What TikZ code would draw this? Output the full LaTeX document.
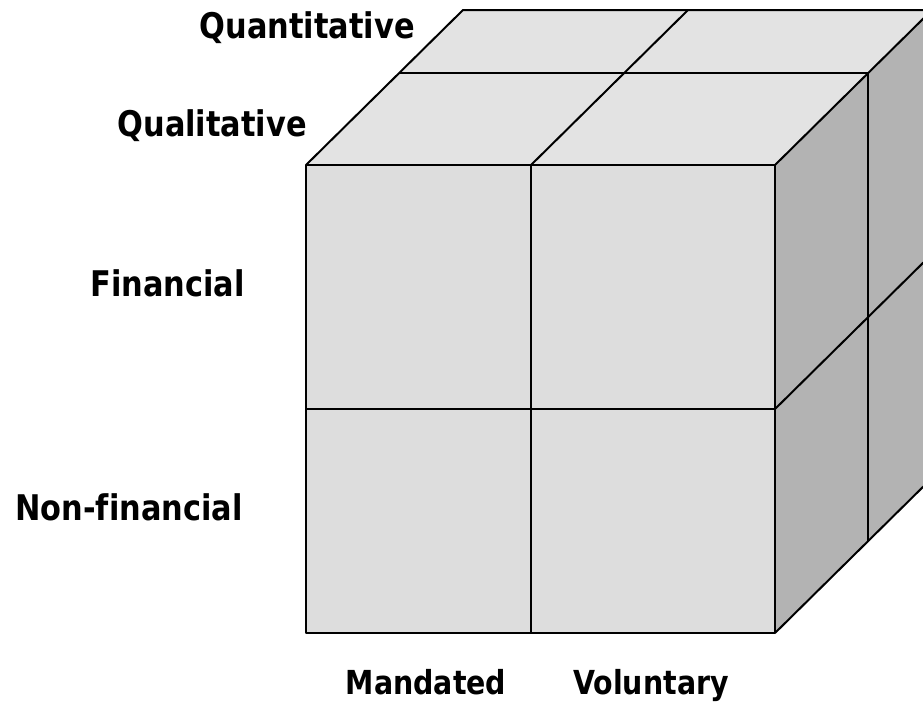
\documentclass[tikz,border=0pt]{standalone}
\usepackage{fontspec}
\usepackage{tikz}
\newfontfamily\lblfont{DejaVu Sans}[FakeStretch=0.86, Ligatures=NoCommon]
\definecolor{frontgray}{HTML}{DDDDDD}
\definecolor{topgray}{HTML}{E3E3E3}
\definecolor{sidegray}{HTML}{B3B3B3}

\begin{document}
\begin{tikzpicture}[x=0.75pt, y=-0.75pt,
    face/.style={line width=1.5pt, line join=round},
    grid/.style={line width=1.5pt},
    lbl/.style={inner sep=0pt, font=\lblfont\bfseries\fontsize{26.5}{30}\selectfont},
    axis/.style={inner sep=0pt, anchor=base, font=\lblfont\bfseries\fontsize{24.8}{28}\selectfont}]
              \useasboundingbox (0,0) rectangle (923,701);

              \begin{scope}
              \clip (0,0) rectangle (923,701);
              % Esquinas
              \coordinate (ftl) at (306,165);
              \coordinate (ftr) at (775,165);
              \coordinate (fbr) at (775,633);
              \coordinate (fbl) at (306,633);
              \coordinate (btl) at (463,10);
              \coordinate (btr) at (932,10);
              \coordinate (bbr) at (932,478);

              % Caras
              \fill[topgray] (ftl) -- (ftr) -- (btr) -- (btl) -- cycle;
              \fill[sidegray] (ftr) -- (fbr) -- (bbr) -- (btr) -- cycle;
              \fill[frontgray] (ftl) rectangle (fbr);

              % Divisiones
              \coordinate (fmt) at (531,165);
              \coordinate (fmb) at (531,633);
              \coordinate (fml) at (306,409);
              \coordinate (fmr) at (775,409);
              \coordinate (tmb) at (688,10);
              \coordinate (dl) at (399,73);
              \coordinate (dr) at (868,73);
              \coordinate (db) at (868,541);
              \coordinate (smr) at (932,254);
              \draw[grid] (fmt) -- (fmb);
              \draw[grid] (fml) -- (fmr);
              \draw[grid] (fmt) -- (tmb);
              \draw[grid] (dl) -- (dr);
              \draw[grid] (dr) -- (db);
              \draw[grid] (fmr) -- (smr);

              % Aristas
              \draw[face] (ftl) -- (btl) -- (btr);
              \draw[face] (ftr) -- (btr);
              \draw[face] (fbr) -- (bbr);
              \draw[face, line width=2pt] (ftl) rectangle (fbr);
              \end{scope}

              % Etiquetas
              \node[lbl, anchor=east] (quant) at (415,28) {Quantitative};
              \node[lbl, anchor=east] (qual) at (307,126) {Qualitative};
              \node[lbl, anchor=east] (fin) at (245,283) {Financial};
              \node[lbl, anchor=east] (nonfin) at (243,507) {Non-financial};
              \node[axis] (mand) at (426,694) {Mandated};
              \node[axis] (vol) at (651,694) {Voluntary};
            \end{tikzpicture}
\end{document}
